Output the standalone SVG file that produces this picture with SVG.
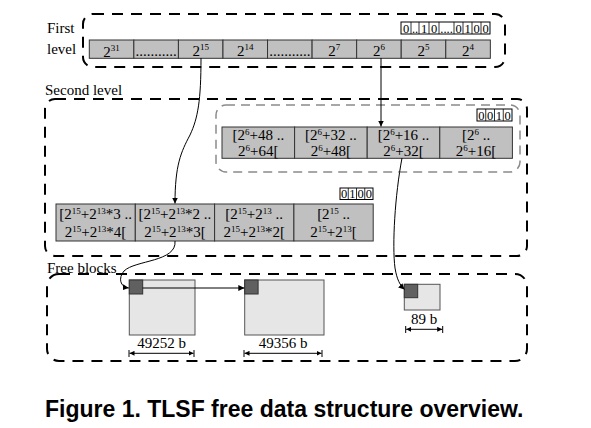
<svg xmlns="http://www.w3.org/2000/svg" width="591" height="428" viewBox="0 0 591 428">
<style>
  .t{font-family:"Liberation Serif","Times New Roman",serif;fill:#000}
  .lbl{font-size:15px}
  .cell{fill:#c0c0c0;stroke:#333;stroke-width:1}
  .ct{font-size:15px;text-anchor:middle}
  .sup{font-size:9px}
  .bm{fill:#fff;stroke:#000;stroke-width:1}
  .bt{font-size:12.5px;text-anchor:middle}
  .dash{fill:none;stroke:#000;stroke-width:2;stroke-dasharray:11 8}
  .gdash{fill:none;stroke:#8a8a8a;stroke-width:1.5;stroke-dasharray:9 6}
  .blk{fill:#e6e6e6;stroke:#555;stroke-width:1}
  .hdr{fill:#606060;stroke:#333;stroke-width:1}
  .conn{fill:none;stroke:#000;stroke-width:1}
  .dim{fill:none;stroke:#000;stroke-width:1}
</style>
<defs>
  <marker id="arr" viewBox="0 0 10 10" refX="10" refY="5" markerWidth="6" markerHeight="6" markerUnits="userSpaceOnUse" orient="auto">
    <path d="M0,0 L10,5 L0,10 z" fill="#000"/>
  </marker>
  <marker id="arrs" viewBox="0 0 10 10" refX="0" refY="5" markerWidth="5" markerHeight="5" markerUnits="userSpaceOnUse" orient="auto">
    <path d="M10,0 L0,5 L10,10 z" fill="#000"/>
  </marker>
  <marker id="arre" viewBox="0 0 10 10" refX="10" refY="5" markerWidth="5" markerHeight="5" markerUnits="userSpaceOnUse" orient="auto">
    <path d="M0,0 L10,5 L0,10 z" fill="#000"/>
  </marker>
</defs>

<!-- First level -->
<g id="first-level">
  <rect class="dash" x="83" y="14" width="422" height="53" rx="10"/>
  <text class="t lbl" x="47" y="33">First</text>
  <text class="t lbl" x="47" y="54">level</text>
  <g id="fl-bitmap">
    <rect class="bm" x="401" y="22" width="89" height="12"/>
    <path d="M411,22v12M419,22v12M429,22v12M439,22v12M454,22v12M463,22v12M472,22v12M481,22v12" stroke="#000" stroke-width="0.8"/>
    <text class="t bt" y="32.5"><tspan x="406">0</tspan><tspan x="415">..</tspan><tspan x="424">1</tspan><tspan x="434">0</tspan><tspan x="446.5">....</tspan><tspan x="458.5">0</tspan><tspan x="467.5">1</tspan><tspan x="476.5">0</tspan><tspan x="485.5">0</tspan></text>
  </g>
  <g id="fl-cells">
    <rect class="cell" x="89.3" y="40" width="44.56" height="18.3"/>
    <rect class="cell" x="133.86" y="40" width="44.56" height="18.3"/>
    <rect class="cell" x="178.42" y="40" width="44.56" height="18.3"/>
    <rect class="cell" x="222.98" y="40" width="44.56" height="18.3"/>
    <rect class="cell" x="267.54" y="40" width="44.56" height="18.3"/>
    <rect class="cell" x="312.1" y="40" width="44.56" height="18.3"/>
    <rect class="cell" x="356.66" y="40" width="44.56" height="18.3"/>
    <rect class="cell" x="401.22" y="40" width="44.56" height="18.3"/>
    <rect class="cell" x="445.78" y="40" width="44.56" height="18.3"/>
    <text class="t ct" x="111.6" y="57">2<tspan class="sup" dy="-6">31</tspan></text>
    <text class="t ct" x="156.1" y="56" font-size="12">...........</text>
    <text class="t ct" x="200.7" y="56">2<tspan class="sup" dy="-6">15</tspan></text>
    <text class="t ct" x="245.2" y="56">2<tspan class="sup" dy="-6">14</tspan></text>
    <text class="t ct" x="289.8" y="56" font-size="12">...........</text>
    <text class="t ct" x="334.3" y="56">2<tspan class="sup" dy="-6">7</tspan></text>
    <text class="t ct" x="378.9" y="56">2<tspan class="sup" dy="-6">6</tspan></text>
    <text class="t ct" x="423.4" y="56">2<tspan class="sup" dy="-6">5</tspan></text>
    <text class="t ct" x="468" y="56">2<tspan class="sup" dy="-6">4</tspan></text>
  </g>
</g>

<!-- Second level -->
<g id="second-level">
  <rect class="dash" x="45" y="99" width="482" height="157" rx="10"/>
  <text class="t lbl" x="45" y="95">Second level</text>
  <g id="sl-6">
    <rect class="gdash" x="216" y="105" width="304" height="67" rx="10"/>
    <rect class="bm" x="477" y="109" width="35" height="12"/>
    <path d="M485.75,109v12M494.5,109v12M503.25,109v12" stroke="#000" stroke-width="0.8"/>
    <text class="t bt" y="119.5"><tspan x="481.4">0</tspan><tspan x="490.1">0</tspan><tspan x="498.9">1</tspan><tspan x="507.6">0</tspan></text>
    <rect class="cell" x="222" y="127" width="72.6" height="31.3"/>
    <rect class="cell" x="294.6" y="127" width="72.6" height="31.3"/>
    <rect class="cell" x="367.2" y="127" width="72.6" height="31.3"/>
    <rect class="cell" x="439.8" y="127" width="72.6" height="31.3"/>
    <text class="t ct" x="258.3" y="139.5">[2<tspan class="sup" dy="-5">6</tspan><tspan dy="5">+48 ..</tspan></text>
    <text class="t ct" x="258.3" y="156">2<tspan class="sup" dy="-5">6</tspan><tspan dy="5">+64[</tspan></text>
    <text class="t ct" x="330.9" y="139.5">[2<tspan class="sup" dy="-5">6</tspan><tspan dy="5">+32 ..</tspan></text>
    <text class="t ct" x="330.9" y="156">2<tspan class="sup" dy="-5">6</tspan><tspan dy="5">+48[</tspan></text>
    <text class="t ct" x="403.5" y="139.5">[2<tspan class="sup" dy="-5">6</tspan><tspan dy="5">+16 ..</tspan></text>
    <text class="t ct" x="403.5" y="156">2<tspan class="sup" dy="-5">6</tspan><tspan dy="5">+32[</tspan></text>
    <text class="t ct" x="476.1" y="139.5">[2<tspan class="sup" dy="-5">6</tspan><tspan dy="5"> ..</tspan></text>
    <text class="t ct" x="476.1" y="156">2<tspan class="sup" dy="-5">6</tspan><tspan dy="5">+16[</tspan></text>
  </g>
  <g id="sl-15">
    <rect class="bm" x="340" y="188" width="33" height="11.5"/>
    <path d="M348.25,188v11.5M356.5,188v11.5M364.75,188v11.5" stroke="#000" stroke-width="0.8"/>
    <text class="t bt" y="198"><tspan x="344.1">0</tspan><tspan x="352.4">1</tspan><tspan x="360.6">0</tspan><tspan x="368.9">0</tspan></text>
    <rect class="cell" x="56" y="204" width="79.3" height="37"/>
    <rect class="cell" x="135.3" y="204" width="79.3" height="37"/>
    <rect class="cell" x="214.6" y="204" width="79.3" height="37"/>
    <rect class="cell" x="293.9" y="204" width="79.3" height="37"/>
    <text class="t ct" x="95.6" y="218.5">[2<tspan class="sup" dy="-5">15</tspan><tspan dy="5">+2</tspan><tspan class="sup" dy="-5">13</tspan><tspan dy="5">*3 ..</tspan></text>
    <text class="t ct" x="95.6" y="237">2<tspan class="sup" dy="-5">15</tspan><tspan dy="5">+2</tspan><tspan class="sup" dy="-5">13</tspan><tspan dy="5">*4[</tspan></text>
    <text class="t ct" x="174.9" y="218.5">[2<tspan class="sup" dy="-5">15</tspan><tspan dy="5">+2</tspan><tspan class="sup" dy="-5">13</tspan><tspan dy="5">*2 ..</tspan></text>
    <text class="t ct" x="174.9" y="237">2<tspan class="sup" dy="-5">15</tspan><tspan dy="5">+2</tspan><tspan class="sup" dy="-5">13</tspan><tspan dy="5">*3[</tspan></text>
    <text class="t ct" x="254.2" y="218.5">[2<tspan class="sup" dy="-5">15</tspan><tspan dy="5">+2</tspan><tspan class="sup" dy="-5">13</tspan><tspan dy="5"> ..</tspan></text>
    <text class="t ct" x="254.2" y="237">2<tspan class="sup" dy="-5">15</tspan><tspan dy="5">+2</tspan><tspan class="sup" dy="-5">13</tspan><tspan dy="5">*2[</tspan></text>
    <text class="t ct" x="333.5" y="218.5">[2<tspan class="sup" dy="-5">15</tspan><tspan dy="5"> ..</tspan></text>
    <text class="t ct" x="333.5" y="237">2<tspan class="sup" dy="-5">15</tspan><tspan dy="5">+2</tspan><tspan class="sup" dy="-5">13</tspan><tspan dy="5">[</tspan></text>
  </g>
</g>

<!-- Free blocks -->
<g id="free-blocks">
  <rect class="dash" x="47" y="274" width="480" height="87" rx="12"/>
  <text class="t lbl" x="47" y="273">Free blocks</text>
  <g id="block-49252">
    <rect class="blk" x="129.3" y="280" width="65.7" height="55"/>
    <rect class="hdr" x="129.3" y="280" width="13.4" height="14"/>
    <text class="t lbl" x="161.5" y="348" text-anchor="middle">49252 b</text>
    <path class="dim" d="M129,350v7M194,350v7"/>
    <line class="dim" x1="129.5" y1="353.3" x2="193.5" y2="353.3" marker-start="url(#arrs)" marker-end="url(#arre)"/>
  </g>
  <g id="block-49356">
    <rect class="blk" x="244.7" y="280" width="79.3" height="55"/>
    <rect class="hdr" x="244.7" y="280" width="13.4" height="14"/>
    <text class="t lbl" x="283" y="348" text-anchor="middle">49356 b</text>
    <path class="dim" d="M244,350v7M322,350v7"/>
    <line class="dim" x1="244.5" y1="353.3" x2="321.5" y2="353.3" marker-start="url(#arrs)" marker-end="url(#arre)"/>
  </g>
  <g id="block-89">
    <rect class="blk" x="404.3" y="284.3" width="35.7" height="25.7"/>
    <rect class="hdr" x="404.3" y="284.3" width="13.4" height="13.4"/>
    <text class="t lbl" x="424" y="324" text-anchor="middle">89 b</text>
    <path class="dim" d="M405.7,326v7M442.7,326v7"/>
    <line class="dim" x1="406.2" y1="329.3" x2="442.2" y2="329.3" marker-start="url(#arrs)" marker-end="url(#arre)"/>
  </g>
</g>

<!-- Connectors -->
<g id="connectors">
  <path class="conn" d="M201,58 C201,100 198,118 190,135 C181,152 175,165 175,203.5" marker-end="url(#arr)"/>
  <path class="conn" d="M381,58 L381,126.5" marker-end="url(#arr)"/>
  <path class="conn" d="M402,158 C395,195 392,245 395,268 C397,280 400,285 404.5,289.5" marker-end="url(#arr)"/>
  <path class="conn" d="M175,241 C177,262 135,260 124,271 C118,278 120,287 128.8,288" marker-end="url(#arr)"/>
  <path class="conn" d="M142.7,288 L244.3,288" marker-end="url(#arr)"/>
</g>

<text x="45" y="416.5" font-family="'Liberation Sans',Arial,sans-serif" font-weight="bold" font-size="23" fill="#000">Figure 1. TLSF free data structure overview.</text>
</svg>
